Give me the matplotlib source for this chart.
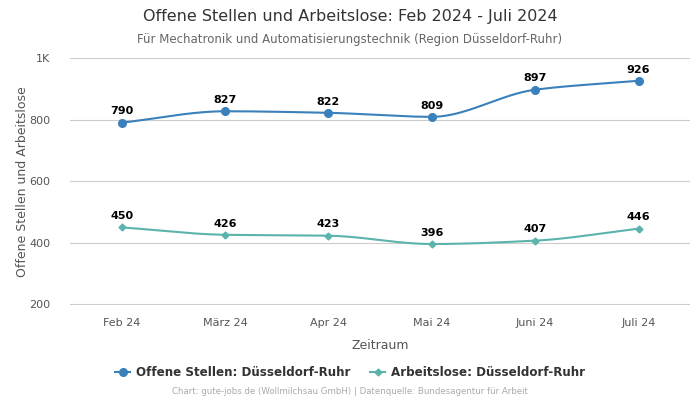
import numpy as np
import matplotlib.pyplot as plt
from matplotlib.lines import Line2D

months = ["Feb 24", "März 24", "Apr 24", "Mai 24", "Juni 24", "Juli 24"]
offene_stellen = [790, 827, 822, 809, 897, 926]
arbeitslose = [450, 426, 423, 396, 407, 446]

BLUE = "#3a80ba"
TEAL = "#5ab4ac"


def monotone_curve(y, n=40):
    # monotone cubic (Fritsch-Carlson) just for drawing a smooth line
    y = np.asarray(y, dtype=float)
    x = np.arange(len(y), dtype=float)
    d = np.diff(y)
    m = np.zeros_like(y)
    m[0], m[-1] = d[0], d[-1]
    for i in range(1, len(y) - 1):
        if d[i - 1] * d[i] <= 0:
            m[i] = 0.0
        else:
            m[i] = 2.0 / (1.0 / d[i - 1] + 1.0 / d[i])
    xs, ys = [], []
    for i in range(len(y) - 1):
        t = np.linspace(0, 1, n)
        h00 = 2 * t**3 - 3 * t**2 + 1
        h10 = t**3 - 2 * t**2 + t
        h01 = -2 * t**3 + 3 * t**2
        h11 = t**3 - t**2
        xs.append(x[i] + t)
        ys.append(h00 * y[i] + h10 * m[i] + h01 * y[i + 1] + h11 * m[i + 1])
    return np.concatenate(xs), np.concatenate(ys)


fig = plt.figure(figsize=(7, 4), dpi=100)
ax = fig.add_axes([0.1, 0.2375, 0.886, 0.6175])

x = np.arange(len(months))
for vals, color, marker, ms in [
    (offene_stellen, BLUE, "o", 5.5),
    (arbeitslose, TEAL, "D", 3.5),
]:
    cx, cy = monotone_curve(vals)
    ax.plot(cx, cy, color=color, lw=1.5, zorder=3)
    ax.plot(x, vals, ls="none", marker=marker, ms=ms, color=color, zorder=4)
    for xi, v in zip(x, vals):
        ax.annotate(str(v), (xi, v), xytext=(0, 4.5), textcoords="offset points",
                    ha="center", va="bottom", fontsize=8, fontweight="bold",
                    color="black")

ax.set_xlim(-0.5, 5.5)
ax.set_ylim(198, 1000)
ax.set_yticks([200, 400, 600, 800, 1000])
ax.set_yticklabels(["200", "400", "600", "800", "1K"])
ax.set_xticks(x)
ax.set_xticklabels(months)
ax.tick_params(axis="both", length=0, labelsize=8, labelcolor="#555555")
ax.tick_params(axis="x", pad=9)
ax.tick_params(axis="y", pad=14)
ax.grid(axis="y", color="#cccccc", lw=0.8)
ax.set_axisbelow(True)
for s in ax.spines.values():
    s.set_visible(False)

ax.set_xlabel("Zeitraum", fontsize=9, color="#555555", labelpad=8)
ax.set_ylabel("Offene Stellen und Arbeitslose", fontsize=9, color="#555555", labelpad=0)

fig.text(0.5, 1 - 17 / 400, "Offene Stellen und Arbeitslose: Feb 2024 - Juli 2024",
         ha="center", va="center", fontsize=11.5, color="#333333")
fig.text(0.5, 1 - 39 / 400, "Für Mechatronik und Automatisierungstechnik (Region Düsseldorf-Ruhr)",
         ha="center", va="center", fontsize=8.5, color="#666666")

handles = [
    Line2D([], [], color=BLUE, marker="o", ms=5.5, lw=1.5),
    Line2D([], [], color=TEAL, marker="D", ms=3.5, lw=1.5),
]
fig.legend(handles, ["Offene Stellen: Düsseldorf-Ruhr", "Arbeitslose: Düsseldorf-Ruhr"],
           loc="center", bbox_to_anchor=(0.5, 1 - 373 / 400), ncol=2, frameon=False,
           prop={"size": 8.6, "weight": "bold"}, labelcolor="#333333",
           handlelength=1.2, columnspacing=1.7, handletextpad=0.5)

fig.text(0.5, 1 - 392 / 400, "Chart: gute-jobs.de (Wollmilchsau GmbH) | Datenquelle: Bundesagentur für Arbeit",
         ha="center", va="center", fontsize=6.2, color="#aaaaaa")

fig.savefig("out.png", dpi=100)
